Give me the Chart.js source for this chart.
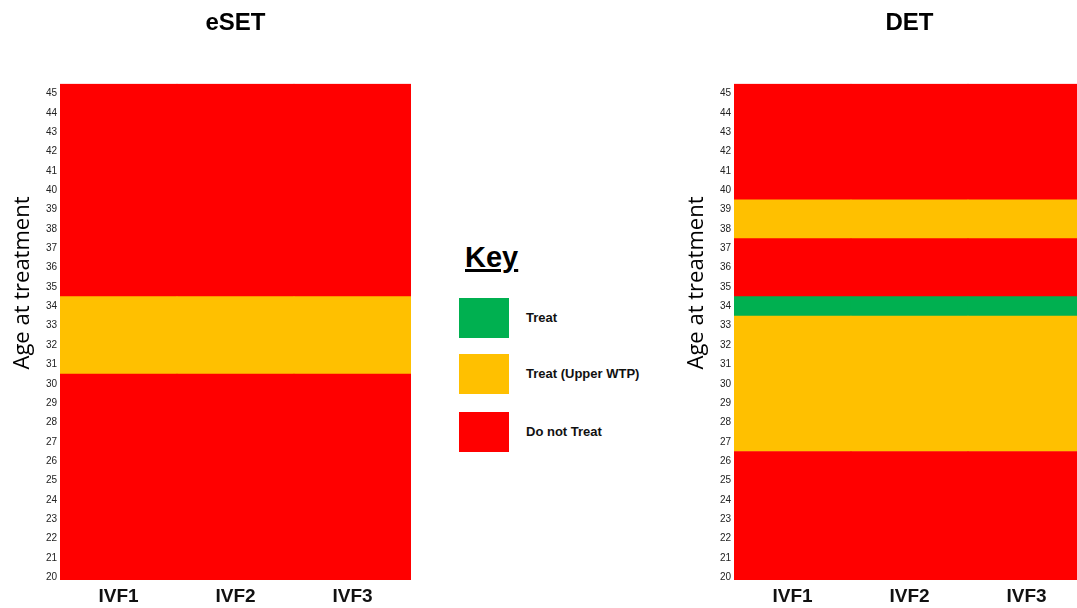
<!DOCTYPE html>
<html>
<head>
<meta charset="utf-8">
<script src="https://cdn.jsdelivr.net/npm/chart.js@4/dist/chart.umd.min.js"></script>
<style>
  body { margin: 0; width: 1077px; height: 608px; overflow: hidden; background: #fff; position: relative; font-family: "Liberation Sans", Arial, sans-serif; }
  canvas { position: absolute; top: 0; }
  #left { left: 0; }
  #right { left: 670px; }
  .ytitle { position: absolute; font: 22px "Open Sans", sans-serif; line-height: 26px; color: #000; white-space: nowrap; transform: rotate(-90deg); transform-origin: center center; width: 220px; text-align: center; }
  .key { position: absolute; left: 465px; top: 243px; font: bold 29px "Liberation Sans", Arial, sans-serif; line-height: 29px; text-decoration: underline; text-decoration-thickness: 3px; color: #000; }
  .sw { position: absolute; left: 459px; width: 50px; height: 40px; }
  .lab { position: absolute; left: 526px; height: 40px; font: bold 13px "Liberation Sans", Arial, sans-serif; line-height: 40px; color: #111; white-space: nowrap; }
</style>
</head>
<body>
<canvas id="left" width="440" height="608"></canvas>
<canvas id="right" width="436" height="608"></canvas>
<div class="ytitle" style="left:-90px; top:270px;">Age at treatment</div>
<div class="ytitle" style="left:584px; top:270px;">Age at treatment</div>
<div id="keybox"></div>
<script>
// age at treatment (y axis ticks)
const ages = [20, 21, 22, 23, 24, 25, 26, 27, 28, 29, 30, 31, 32, 33, 34, 35, 36, 37, 38, 39, 40, 41, 42, 43, 44, 45]
const cycles = ["IVF1", "IVF2", "IVF3"]

// decision per age, same for every IVF cycle
const esetStatus = ["no", "no", "no", "no", "no", "no", "no", "no", "no", "no", "no",
  "upper", "upper", "upper", "upper",
  "no", "no", "no", "no", "no", "no", "no", "no", "no", "no", "no"]
const detStatus = ["no", "no", "no", "no", "no", "no", "no",
  "upper", "upper", "upper", "upper", "upper", "upper", "upper",
  "treat",
  "no", "no", "no",
  "upper", "upper",
  "no", "no", "no", "no", "no", "no"]

const keyCodes = ["treat", "upper", "no"]
const keyLabels = ["Treat", "Treat (Upper WTP)", "Do not Treat"]
const colors = { treat: "#00B050", upper: "#FFC000", no: "#FF0000" }

// merge consecutive ages with the same decision into one band
function bands(status) {
  let out = []
  status.forEach((s, i) => {
    let last = out[out.length - 1]
    if (last && last.code === s) last.to = ages[i]
    else out.push({ code: s, from: ages[i], to: ages[i] })
  })
  return out.map((b) => ({
    label: b.code,
    data: cycles.map(() => [b.from - 0.5, b.to + 0.5]),
    backgroundColor: colors[b.code],
    borderWidth: 0,
    borderSkipped: false,
    grouped: false,
    clip: 0,
    barPercentage: 1,
    categoryPercentage: 1
  }))
}

function makeChart(id, title, status, yWidth, padRight) {
  new Chart(document.getElementById(id), {
    type: "bar",
    data: { labels: cycles, datasets: bands(status) },
    options: {
      responsive: false,
      animation: false,
      layout: { padding: { left: 0, right: padRight, top: 0, bottom: 0 } },
      plugins: {
        legend: { display: false },
        tooltip: { enabled: false },
        title: {
          display: true,
          text: title,
          fullSize: false,
          color: "#000",
          font: { family: "Liberation Sans", size: 24, weight: "bold" },
          padding: { top: 9, bottom: 46 }
        }
      },
      scales: {
        x: {
          grid: { display: false, drawTicks: false },
          border: { display: false },
          ticks: { color: "#111", padding: 5, font: { family: "Liberation Sans", size: 19, weight: "bold" } },
          afterFit: (s) => { s.height = 28 }
        },
        y: {
          min: 19.86,
          max: 45.5,
          grid: { display: false, drawTicks: false },
          border: { display: false },
          afterBuildTicks: (s) => { s.ticks = ages.map((a) => ({ value: a })) },
          ticks: { color: "#222", padding: 3, font: { family: "Liberation Sans", size: 10 } },
          afterFit: (s) => { s.width = yWidth }
        }
      }
    }
  })
}

makeChart("left", "eSET", esetStatus, 60, 29)
makeChart("right", "DET", detStatus, 64, 21)

// key
let box = document.getElementById("keybox")
let k = document.createElement("div")
k.className = "key"
k.textContent = "Key"
box.appendChild(k)
const keyTops = [298, 354, 412]
keyCodes.forEach((c, i) => {
  let sw = document.createElement("div")
  sw.className = "sw"
  sw.style.top = keyTops[i] + "px"
  sw.style.background = colors[c]
  box.appendChild(sw)
  let lab = document.createElement("div")
  lab.className = "lab"
  lab.style.top = keyTops[i] + "px"
  lab.textContent = keyLabels[i]
  box.appendChild(lab)
})
</script>
</body>
</html>
